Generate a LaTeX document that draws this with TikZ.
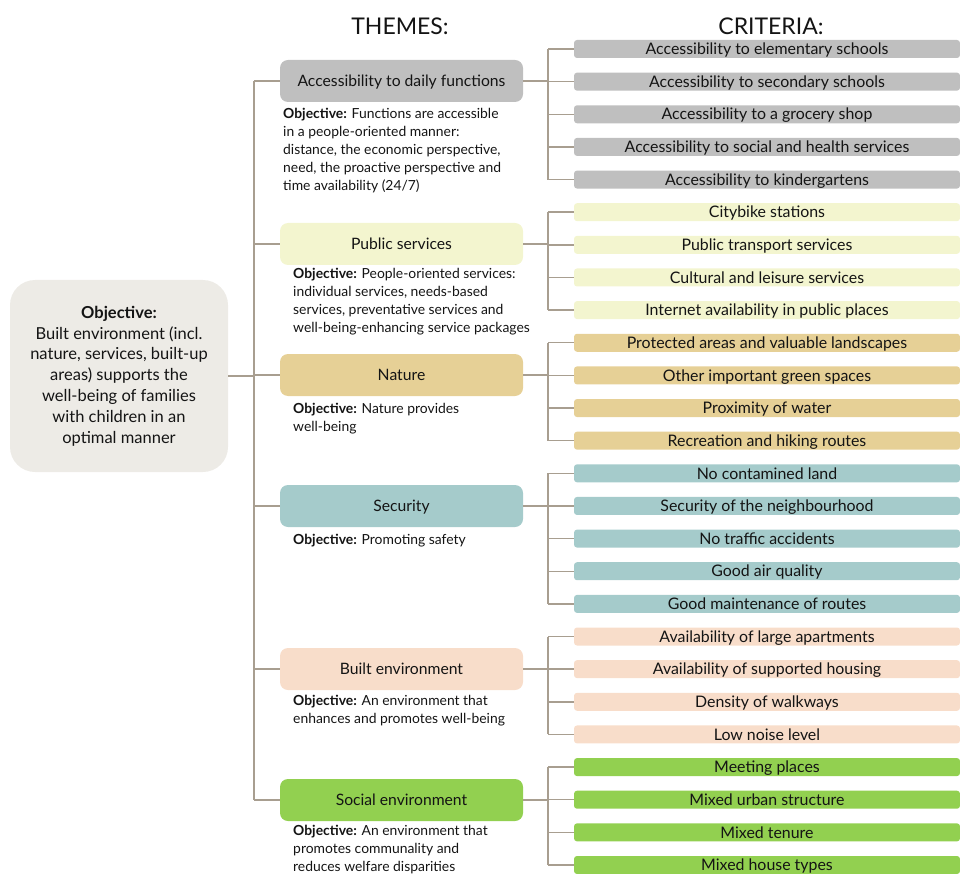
\documentclass[tikz,border=0pt]{standalone}
\usepackage{fontspec}
\setmainfont{Lato}
\definecolor{linec}{HTML}{A89E90}
\definecolor{rootfill}{HTML}{EDEBE6}
\definecolor{cgray}{HTML}{BFBFBF}
\definecolor{cpub}{HTML}{F3F5CF}
\definecolor{cnat}{HTML}{E6D096}
\definecolor{csec}{HTML}{A5CBCB}
\definecolor{cbuilt}{HTML}{F8DDCA}
\definecolor{csoc}{HTML}{92D050}
\definecolor{ink}{HTML}{141414}
\begin{document}
\begin{tikzpicture}[x=1pt,y=-1pt,
  rootbox/.style={fill=rootfill, rounded corners=25pt, minimum width=218pt, minimum height=192pt,
    inner sep=0pt, align=center, text=ink, font=\fontsize{16.5}{20.8}\selectfont},
  themebox/.style={rounded corners=8pt, minimum width=243pt, minimum height=42pt,
    inner sep=0pt, text height=11.3pt, text depth=0pt, text=ink, font=\fontsize{15.7}{18}\selectfont},
  critbox/.style={rounded corners=3pt, minimum width=386pt, minimum height=18pt,
    inner sep=0pt, text height=11.4pt, text depth=0pt, text=ink, font=\fontsize{15.9}{18}\selectfont},
  objtext/.style={anchor=north west, align=left, inner sep=0pt, text=ink,
    font=\fontsize{13.9}{18}\selectfont},
  header/.style={inner sep=0pt, text=ink, font=\fontsize{23}{28}\selectfont},
  link/.style={draw=linec, line width=1.4pt}]
\useasboundingbox (0,0) rectangle (960,874);

% column headings
\node[header] (hthemes) at (400,26) {THEMES:};
\node[header] (hcrit) at (771,26) {CRITERIA:};

% overall objective
\node[rootbox] (root) at (119,376) {\textbf{Objective:}\\Built environment (incl.\\nature, services, built-up\\areas) supports the\\well-being of families\\with children in an\\optimal manner};

% themes
\node[themebox, fill=cgray]  (t1) at (401.5,81)  {Accessibility to daily functions};
\node[themebox, fill=cpub]   (t2) at (401.5,244) {Public services};
\node[themebox, fill=cnat]   (t3) at (401.5,375) {Nature};
\node[themebox, fill=csec]   (t4) at (401.5,506) {Security};
\node[themebox, fill=cbuilt] (t5) at (401.5,669) {Built environment};
\node[themebox, fill=csoc]   (t6) at (401.5,800) {Social environment};

% theme objectives
\node[objtext] (o1) at (283,108) {\textbf{Objective:} Functions are accessible\\in a people-oriented manner:\\distance, the economic perspective,\\need, the proactive perspective and\\time availability (24/7)};
\node[objtext] (o2) at (293,268) {\textbf{Objective:} People-oriented services:\\individual services, needs-based\\services, preventative services and\\well-being-enhancing service packages};
\node[objtext] (o3) at (293,403) {\textbf{Objective:} Nature provides\\well-being};
\node[objtext] (o4) at (293,534) {\textbf{Objective:} Promoting safety};
\node[objtext] (o5) at (293,695) {\textbf{Objective:} An environment that\\enhances and promotes well-being};
\node[objtext] (o6) at (293,825) {\textbf{Objective:} An environment that\\promotes communality and\\reduces welfare disparities};

% criteria
\foreach \col/\txt [count=\k] in {
  cgray/Accessibility to elementary schools,
  cgray/Accessibility to secondary schools,
  cgray/Accessibility to a grocery shop,
  cgray/Accessibility to social and health services,
  cgray/Accessibility to kindergartens,
  cpub/Citybike stations,
  cpub/Public transport services,
  cpub/Cultural and leisure services,
  cpub/Internet availability in public places,
  cnat/Protected areas and valuable landscapes,
  cnat/Other important green spaces,
  cnat/Proximity of water,
  cnat/Recreation and hiking routes,
  csec/No contamined land,
  csec/Security of the neighbourhood,
  csec/No traffic accidents,
  csec/Good air quality,
  csec/Good maintenance of routes,
  cbuilt/Availability of large apartments,
  cbuilt/Availability of supported housing,
  cbuilt/Density of walkways,
  cbuilt/Low noise level,
  csoc/Meeting places,
  csoc/Mixed urban structure,
  csoc/Mixed tenure,
  csoc/Mixed house types}
  \node[critbox, fill=\col] (c\k) at (767,{49+(\k-1)*32.64}) {\txt};

% trunk from the overall objective to the themes
\coordinate (trunk) at (254,0);
\draw[link] (root.east) -- (root.east -| trunk);
\draw[link] (trunk |- t1.west) -- (trunk |- t6.west);
\foreach \t in {1,...,6}
  \draw[link] (trunk |- t\t.west) -- (t\t.west);

% brackets from each theme to its criteria
\coordinate (brx) at (548,0);
\foreach \t/\a/\b in {1/1/5, 2/6/9, 3/10/13, 4/14/18, 5/19/22, 6/23/26} {
  \draw[link] (t\t.east) -- (t\t.east -| brx);
  \draw[link] (brx |- c\a.west) -- (brx |- c\b.west);
  \foreach \k in {\a,...,\b}
    \draw[link] (brx |- c\k.west) -- (c\k.west);
}
\end{tikzpicture}
\end{document}
